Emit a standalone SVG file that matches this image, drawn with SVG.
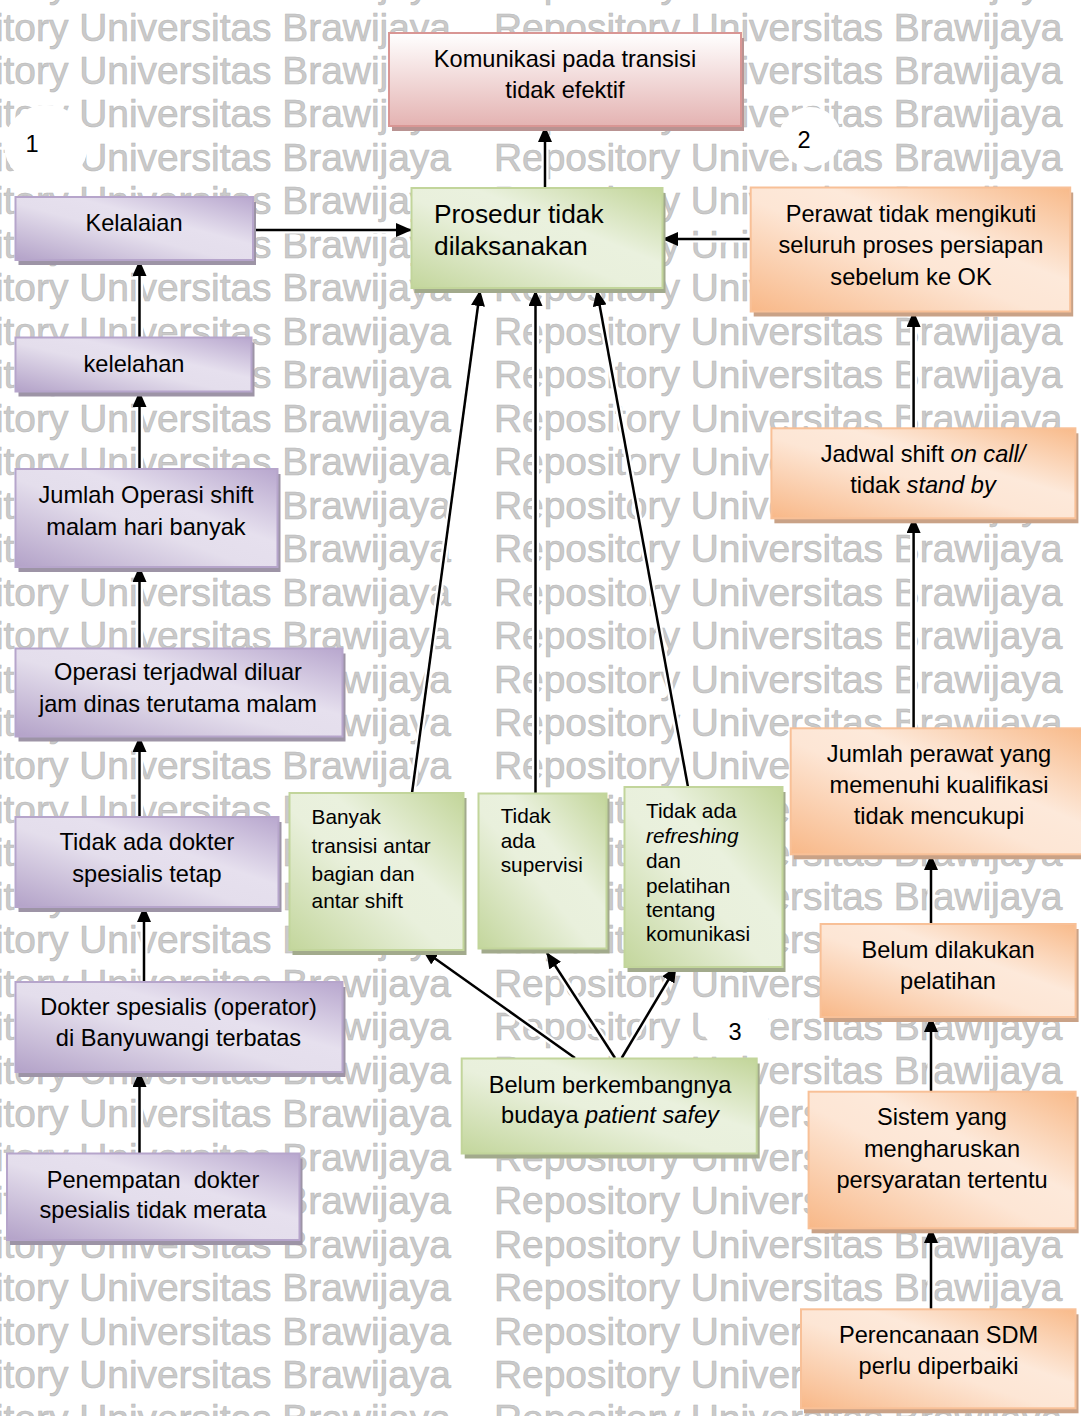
<svg xmlns="http://www.w3.org/2000/svg" width="1081" height="1416" viewBox="0 0 1081 1416">
<style>
.wm { font-family: "Liberation Sans", Arial, sans-serif; font-size: 38.9px; fill: #cacaca; stroke: #b8b8b8; stroke-width: 0.6; }
.t { font-family: "Liberation Sans", Arial, sans-serif; font-size: 23.6px; fill: #000; }
.c { text-anchor: middle; }
.s { font-size: 20.8px; }
.big { font-size: 26.3px; }
.i { font-style: italic; }
.halo { stroke: #fff; stroke-width: 7; fill: none; }
.conn { stroke: #000; stroke-width: 2.5; fill: none; marker-end: url(#ah); }
.pu { fill: url(#gPurple); stroke: #b6a5cb; stroke-width: 2; }
.pus { fill: #9d94a6; }
.gr { fill: url(#gGreen); stroke: #c2d59b; stroke-width: 2; }
.grs { fill: #a2aa8c; }
.or { fill: url(#gOrange); stroke: #f8c097; stroke-width: 2; }
.ors { fill: #c9a287; }
.rd { fill: url(#gRed); stroke: #d99694; stroke-width: 2; }
.rds { fill: #b99392; }
</style>
<defs>
<linearGradient id="gPurple" x1="0" y1="1" x2="1" y2="0">
<stop offset="0" stop-color="#b3a2c8"/><stop offset="0.45" stop-color="#e4deec"/><stop offset="0.62" stop-color="#e6e0ee"/><stop offset="1" stop-color="#b8a7ce"/>
</linearGradient>
<linearGradient id="gGreen" x1="0" y1="1" x2="1" y2="0">
<stop offset="0" stop-color="#c3d69c"/><stop offset="0.45" stop-color="#e9f0dc"/><stop offset="0.62" stop-color="#eaf1de"/><stop offset="1" stop-color="#c2d599"/>
</linearGradient>
<linearGradient id="gOrange" x1="0" y1="1" x2="1" y2="0">
<stop offset="0" stop-color="#f8b888"/><stop offset="0.45" stop-color="#fde6d5"/><stop offset="0.62" stop-color="#fde9da"/><stop offset="1" stop-color="#f8ba8a"/>
</linearGradient>
<linearGradient id="gRed" x1="0" y1="0" x2="0" y2="1">
<stop offset="0" stop-color="#ffffff"/><stop offset="1" stop-color="#e4b3b2"/>
</linearGradient>
<marker id="ah" markerUnits="userSpaceOnUse" markerWidth="16" markerHeight="14" refX="15" refY="7" orient="auto">
<path d="M0,0 L16,7 L0,14 z" fill="#000"/>
</marker>
</defs>
<rect x="0" y="0" width="1081" height="1416" fill="#fff"/>
<g id="watermark">
<text class="wm" y="-2.97"><tspan x="-117.5">Repository Universitas Brawijaya</tspan><tspan x="494">Repository Universitas Brawijaya</tspan></text>
<text class="wm" y="40.5"><tspan x="-117.5">Repository Universitas Brawijaya</tspan><tspan x="494">Repository Universitas Brawijaya</tspan></text>
<text class="wm" y="83.97"><tspan x="-117.5">Repository Universitas Brawijaya</tspan><tspan x="494">Repository Universitas Brawijaya</tspan></text>
<text class="wm" y="127.44"><tspan x="-117.5">Repository Universitas Brawijaya</tspan><tspan x="494">Repository Universitas Brawijaya</tspan></text>
<text class="wm" y="170.91"><tspan x="-117.5">Repository Universitas Brawijaya</tspan><tspan x="494">Repository Universitas Brawijaya</tspan></text>
<text class="wm" y="214.38"><tspan x="-117.5">Repository Universitas Brawijaya</tspan><tspan x="494">Repository Universitas Brawijaya</tspan></text>
<text class="wm" y="257.85"><tspan x="-117.5">Repository Universitas Brawijaya</tspan><tspan x="494">Repository Universitas Brawijaya</tspan></text>
<text class="wm" y="301.32"><tspan x="-117.5">Repository Universitas Brawijaya</tspan><tspan x="494">Repository Universitas Brawijaya</tspan></text>
<text class="wm" y="344.79"><tspan x="-117.5">Repository Universitas Brawijaya</tspan><tspan x="494">Repository Universitas Brawijaya</tspan></text>
<text class="wm" y="388.26"><tspan x="-117.5">Repository Universitas Brawijaya</tspan><tspan x="494">Repository Universitas Brawijaya</tspan></text>
<text class="wm" y="431.73"><tspan x="-117.5">Repository Universitas Brawijaya</tspan><tspan x="494">Repository Universitas Brawijaya</tspan></text>
<text class="wm" y="475.2"><tspan x="-117.5">Repository Universitas Brawijaya</tspan><tspan x="494">Repository Universitas Brawijaya</tspan></text>
<text class="wm" y="518.67"><tspan x="-117.5">Repository Universitas Brawijaya</tspan><tspan x="494">Repository Universitas Brawijaya</tspan></text>
<text class="wm" y="562.14"><tspan x="-117.5">Repository Universitas Brawijaya</tspan><tspan x="494">Repository Universitas Brawijaya</tspan></text>
<text class="wm" y="605.61"><tspan x="-117.5">Repository Universitas Brawijaya</tspan><tspan x="494">Repository Universitas Brawijaya</tspan></text>
<text class="wm" y="649.08"><tspan x="-117.5">Repository Universitas Brawijaya</tspan><tspan x="494">Repository Universitas Brawijaya</tspan></text>
<text class="wm" y="692.55"><tspan x="-117.5">Repository Universitas Brawijaya</tspan><tspan x="494">Repository Universitas Brawijaya</tspan></text>
<text class="wm" y="736.02"><tspan x="-117.5">Repository Universitas Brawijaya</tspan><tspan x="494">Repository Universitas Brawijaya</tspan></text>
<text class="wm" y="779.49"><tspan x="-117.5">Repository Universitas Brawijaya</tspan><tspan x="494">Repository Universitas Brawijaya</tspan></text>
<text class="wm" y="822.96"><tspan x="-117.5">Repository Universitas Brawijaya</tspan><tspan x="494">Repository Universitas Brawijaya</tspan></text>
<text class="wm" y="866.43"><tspan x="-117.5">Repository Universitas Brawijaya</tspan><tspan x="494">Repository Universitas Brawijaya</tspan></text>
<text class="wm" y="909.9"><tspan x="-117.5">Repository Universitas Brawijaya</tspan><tspan x="494">Repository Universitas Brawijaya</tspan></text>
<text class="wm" y="953.37"><tspan x="-117.5">Repository Universitas Brawijaya</tspan><tspan x="494">Repository Universitas Brawijaya</tspan></text>
<text class="wm" y="996.84"><tspan x="-117.5">Repository Universitas Brawijaya</tspan><tspan x="494">Repository Universitas Brawijaya</tspan></text>
<text class="wm" y="1040.31"><tspan x="-117.5">Repository Universitas Brawijaya</tspan><tspan x="494">Repository Universitas Brawijaya</tspan></text>
<text class="wm" y="1083.78"><tspan x="-117.5">Repository Universitas Brawijaya</tspan><tspan x="494">Repository Universitas Brawijaya</tspan></text>
<text class="wm" y="1127.25"><tspan x="-117.5">Repository Universitas Brawijaya</tspan><tspan x="494">Repository Universitas Brawijaya</tspan></text>
<text class="wm" y="1170.72"><tspan x="-117.5">Repository Universitas Brawijaya</tspan><tspan x="494">Repository Universitas Brawijaya</tspan></text>
<text class="wm" y="1214.19"><tspan x="-117.5">Repository Universitas Brawijaya</tspan><tspan x="494">Repository Universitas Brawijaya</tspan></text>
<text class="wm" y="1257.66"><tspan x="-117.5">Repository Universitas Brawijaya</tspan><tspan x="494">Repository Universitas Brawijaya</tspan></text>
<text class="wm" y="1301.13"><tspan x="-117.5">Repository Universitas Brawijaya</tspan><tspan x="494">Repository Universitas Brawijaya</tspan></text>
<text class="wm" y="1344.6"><tspan x="-117.5">Repository Universitas Brawijaya</tspan><tspan x="494">Repository Universitas Brawijaya</tspan></text>
<text class="wm" y="1388.07"><tspan x="-117.5">Repository Universitas Brawijaya</tspan><tspan x="494">Repository Universitas Brawijaya</tspan></text>
<text class="wm" y="1431.54"><tspan x="-117.5">Repository Universitas Brawijaya</tspan><tspan x="494">Repository Universitas Brawijaya</tspan></text>
</g>
<g id="labels">
<ellipse cx="46" cy="145" rx="42" ry="40" fill="#fff"/>
<text class="t c" x="32" y="152">1</text>
<ellipse cx="810" cy="137" rx="31" ry="30" fill="#fff"/>
<text class="t c" x="804" y="148">2</text>
<ellipse cx="737" cy="1028" rx="34" ry="24" fill="#fff"/>
<text class="t c" x="735" y="1040">3</text>
</g>
<g id="connectors">
<g class="halo">
<line x1="255" y1="230" x2="411" y2="230"/>
<line x1="545" y1="188" x2="545" y2="127"/>
<line x1="750" y1="239" x2="663" y2="239"/>
<line x1="139.5" y1="337" x2="139.5" y2="261"/>
<line x1="139.5" y1="469" x2="139.5" y2="392"/>
<line x1="139.5" y1="648" x2="139.5" y2="567"/>
<line x1="139.5" y1="817" x2="139.5" y2="737"/>
<line x1="144" y1="982" x2="144" y2="907"/>
<line x1="139.5" y1="1153" x2="139.5" y2="1072"/>
<line x1="913.6" y1="428" x2="913.6" y2="312"/>
<line x1="913.6" y1="728" x2="913.6" y2="518"/>
<line x1="931" y1="924" x2="931" y2="855"/>
<line x1="931" y1="1092" x2="931" y2="1017"/>
<line x1="931" y1="1309" x2="931" y2="1228"/>
<line x1="412" y1="793" x2="480" y2="291"/>
<line x1="535.5" y1="793" x2="535.5" y2="291"/>
<line x1="688" y1="787" x2="597" y2="291"/>
<line x1="575" y1="1058" x2="423" y2="950"/>
<line x1="615" y1="1058" x2="547" y2="953"/>
<line x1="621.7" y1="1058" x2="676" y2="967"/>
</g>
<g class="conn">
<line x1="255" y1="230" x2="411" y2="230"/>
<line x1="545" y1="188" x2="545" y2="127"/>
<line x1="750" y1="239" x2="663" y2="239"/>
<line x1="139.5" y1="337" x2="139.5" y2="261"/>
<line x1="139.5" y1="469" x2="139.5" y2="392"/>
<line x1="139.5" y1="648" x2="139.5" y2="567"/>
<line x1="139.5" y1="817" x2="139.5" y2="737"/>
<line x1="144" y1="982" x2="144" y2="907"/>
<line x1="139.5" y1="1153" x2="139.5" y2="1072"/>
<line x1="913.6" y1="428" x2="913.6" y2="312"/>
<line x1="913.6" y1="728" x2="913.6" y2="518"/>
<line x1="931" y1="924" x2="931" y2="855"/>
<line x1="931" y1="1092" x2="931" y2="1017"/>
<line x1="931" y1="1309" x2="931" y2="1228"/>
<line x1="412" y1="793" x2="480" y2="291"/>
<line x1="535.5" y1="793" x2="535.5" y2="291"/>
<line x1="688" y1="787" x2="597" y2="291"/>
<line x1="575" y1="1058" x2="423" y2="950"/>
<line x1="615" y1="1058" x2="547" y2="953"/>
<line x1="621.7" y1="1058" x2="676" y2="967"/>
</g>
</g>
<g id="n-komunikasi">
<rect class="rds" x="392" y="38" width="352" height="93"/>
<rect class="rd" x="389" y="33" width="352" height="93"/>
<text class="t c" x="565" y="66.7">Komunikasi pada transisi</text>
<text class="t c" x="565" y="98.3">tidak efektif</text>
</g>
<g id="n-prosedur">
<rect class="grs" x="414.5" y="193" width="251" height="100"/>
<rect class="gr" x="411.5" y="188" width="251" height="100"/>
<text class="t big" x="434" y="223">Prosedur tidak</text>
<text class="t big" x="434" y="255">dilaksanakan</text>
</g>
<g id="n-kelalaian">
<rect class="pus" x="18.5" y="202" width="237.5" height="63"/>
<rect class="pu" x="15.5" y="197" width="237.5" height="63"/>
<text class="t c" x="134" y="230.7">Kelalaian</text>
</g>
<g id="n-kelelahan">
<rect class="pus" x="18.5" y="342.5" width="236" height="54"/>
<rect class="pu" x="15.5" y="337.5" width="236" height="54"/>
<text class="t c" x="134" y="371.7">kelelahan</text>
</g>
<g id="n-jumlah-operasi">
<rect class="pus" x="18.5" y="474" width="262" height="98"/>
<rect class="pu" x="15.5" y="469" width="262" height="98"/>
<text class="t c" x="146" y="503.3">Jumlah Operasi shift</text>
<text class="t c" x="146" y="535">malam hari banyak</text>
</g>
<g id="n-operasi-terjadwal">
<rect class="pus" x="18.5" y="653.5" width="327" height="88"/>
<rect class="pu" x="15.5" y="648.5" width="327" height="88"/>
<text class="t c" x="178" y="680">Operasi terjadwal diluar</text>
<text class="t c" x="178" y="711.7">jam dinas terutama malam</text>
</g>
<g id="n-tidak-ada-dokter">
<rect class="pus" x="18.5" y="822" width="263" height="90"/>
<rect class="pu" x="15.5" y="817" width="263" height="90"/>
<text class="t c" x="147" y="850">Tidak ada dokter</text>
<text class="t c" x="147" y="881.7">spesialis tetap</text>
</g>
<g id="n-dokter-spesialis">
<rect class="pus" x="18.5" y="987" width="327" height="90"/>
<rect class="pu" x="15.5" y="982" width="327" height="90"/>
<text class="t c" x="178.5" y="1015">Dokter spesialis (operator)</text>
<text class="t c" x="178.5" y="1046">di Banyuwangi terbatas</text>
</g>
<g id="n-penempatan">
<rect class="pus" x="10" y="1158.5" width="292.5" height="86.5"/>
<rect class="pu" x="7" y="1153.5" width="292.5" height="86.5"/>
<text class="t c" x="153" y="1188.3" xml:space="preserve">Penempatan  dokter</text>
<text class="t c" x="153" y="1218.3">spesialis tidak merata</text>
</g>
<g id="n-banyak-transisi">
<rect class="grs" x="292.5" y="798" width="174" height="157"/>
<rect class="gr" x="289.5" y="793" width="174" height="157"/>
<text class="t s" x="311.6" y="824">Banyak</text>
<text class="t s" x="311.6" y="852.7">transisi antar</text>
<text class="t s" x="311.6" y="880.7">bagian dan</text>
<text class="t s" x="311.6" y="908.3">antar shift</text>
</g>
<g id="n-supervisi">
<rect class="grs" x="481.5" y="798.5" width="128" height="155"/>
<rect class="gr" x="478.5" y="793.5" width="128" height="155"/>
<text class="t s" x="500.7" y="823.3">Tidak</text>
<text class="t s" x="500.7" y="848.3">ada</text>
<text class="t s" x="500.7" y="871.7">supervisi</text>
</g>
<g id="n-refreshing">
<rect class="grs" x="627.5" y="792" width="158" height="180"/>
<rect class="gr" x="624.5" y="787" width="158" height="180"/>
<text class="t s" x="646" y="818.3">Tidak ada</text>
<text class="t s i" x="646" y="842.7">refreshing</text>
<text class="t s" x="646" y="868.3">dan</text>
<text class="t s" x="646" y="892.7">pelatihan</text>
<text class="t s" x="646" y="916.7">tentang</text>
<text class="t s" x="646" y="940.7">komunikasi</text>
</g>
<g id="n-budaya">
<rect class="grs" x="464.7" y="1063.5" width="295" height="95"/>
<rect class="gr" x="461.7" y="1058.5" width="295" height="95"/>
<text class="t c" x="610" y="1093.3">Belum berkembangnya</text>
<text class="t c" x="610" y="1123.3">budaya <tspan class="i">patient safey</tspan></text>
</g>
<g id="n-perawat">
<rect class="ors" x="753.7" y="192.5" width="319.5" height="124"/>
<rect class="or" x="750.7" y="187.5" width="319.5" height="124"/>
<text class="t c" x="911" y="221.7">Perawat tidak mengikuti</text>
<text class="t c" x="911" y="253.3">seluruh proses persiapan</text>
<text class="t c" x="911" y="285">sebelum ke OK</text>
</g>
<g id="n-jadwal">
<rect class="ors" x="774.4" y="433.3" width="304" height="90"/>
<rect class="or" x="771.4" y="428.3" width="304" height="90"/>
<text class="t c" x="923" y="461.7">Jadwal shift <tspan class="i">on call/</tspan></text>
<text class="t c" x="923" y="492.7">tidak <tspan class="i">stand by</tspan></text>
</g>
<g id="n-jumlah-perawat">
<rect class="ors" x="793.7" y="733.3" width="292" height="126"/>
<rect class="or" x="790.7" y="728.3" width="292" height="126"/>
<text class="t c" x="939" y="762">Jumlah perawat yang</text>
<text class="t c" x="939" y="793">memenuhi kualifikasi</text>
<text class="t c" x="939" y="824">tidak mencukupi</text>
</g>
<g id="n-pelatihan">
<rect class="ors" x="823.6" y="929" width="255" height="93"/>
<rect class="or" x="820.6" y="924" width="255" height="93"/>
<text class="t c" x="948" y="958.3">Belum dilakukan</text>
<text class="t c" x="948" y="989.3">pelatihan</text>
</g>
<g id="n-sistem">
<rect class="ors" x="811.6" y="1096.7" width="267" height="136.6"/>
<rect class="or" x="808.6" y="1091.7" width="267" height="136.6"/>
<text class="t c" x="942" y="1125">Sistem yang</text>
<text class="t c" x="942" y="1156.5">mengharuskan</text>
<text class="t c" x="942" y="1188">persyaratan tertentu</text>
</g>
<g id="n-perencanaan">
<rect class="ors" x="804" y="1314.3" width="274.5" height="99"/>
<rect class="or" x="801" y="1309.3" width="274.5" height="99"/>
<text class="t c" x="938.6" y="1343.3">Perencanaan SDM</text>
<text class="t c" x="938.6" y="1374">perlu diperbaiki</text>
</g>
</svg>
